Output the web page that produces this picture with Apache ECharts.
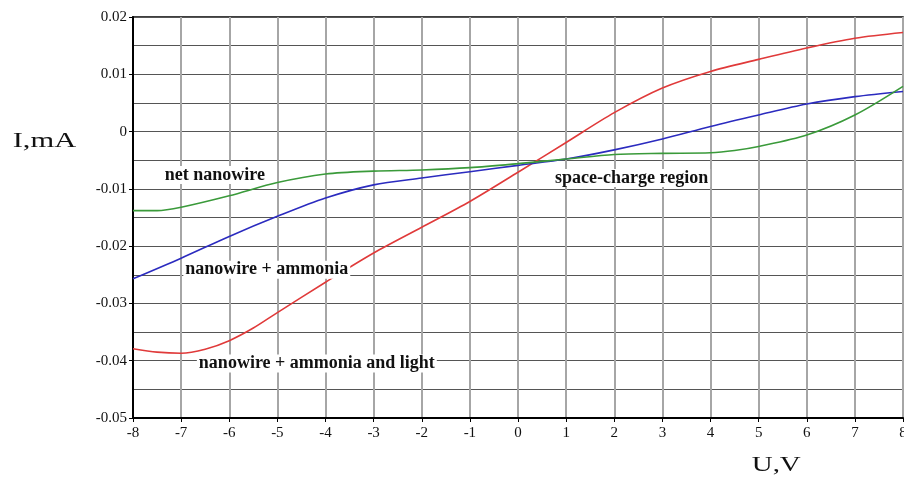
<!DOCTYPE html>
<html>
<head>
<meta charset="utf-8">
<script src="https://cdn.jsdelivr.net/npm/echarts@6/dist/echarts.min.js"></script>
<style>
html,body{margin:0;padding:0;background:#fff;}
#chart{width:904px;height:477px;}
</style>
</head>
<body>
<div id="chart"></div>
<script>
// Voltage (V) and current (mA) readings
var uLight = [-8,-7.5,-7,-6.5,-6,-5.5,-5,-4,-3,-2,-1,0,1,2,3,4,5,6,7,8];
var iLight = [-0.0379,-0.0385,-0.0387,-0.0380,-0.0365,-0.0343,-0.0316,-0.0263,-0.0212,-0.0167,-0.0122,-0.0071,-0.0019,0.0033,0.0076,0.0105,0.0126,0.0146,0.0163,0.0173];

var uAmmonia = [-8,-7,-6,-5,-4,-3,-2,-1,0,1,2,3,4,5,6,7,8];
var iAmmonia = [-0.0257,-0.0221,-0.0183,-0.0148,-0.0116,-0.0093,-0.0081,-0.0070,-0.0059,-0.0048,-0.0032,-0.0013,0.0009,0.0029,0.0048,0.0061,0.0070];

var uNet = [-8,-7.5,-7,-6,-5,-4,-3,-2,-1,0,1,2,3,4,4.5,5,6,7,8];
var iNet = [-0.0138,-0.0138,-0.0132,-0.0112,-0.0089,-0.0074,-0.0069,-0.0067,-0.0063,-0.0056,-0.0048,-0.0040,-0.0038,-0.0037,-0.0033,-0.0026,-0.0006,0.0029,0.0079];

var annotationTexts = ['net nanowire','nanowire + ammonia','nanowire + ammonia and light','space-charge region'];
var annotationU = [-6.3,-5.22,-4.18,2.36];
var annotationI = [-0.0076,-0.0241,-0.0405,-0.0081];

var xTicks = {min:-8, max:8, step:1};
var yTicks = {min:-0.05, max:0.02, step:0.01};

function pairs(u, i){ return u.map(function(x,k){ return [x, i[k]]; }); }

var serif = "'Liberation Serif','Times New Roman',serif";
var chart = echarts.init(document.getElementById('chart'), null, {renderer:'canvas'});

chart.setOption({
  backgroundColor:'#fff',
  animation:false,
  grid:{left:133, right:1, top:17, bottom:59, outerBoundsMode:'none', containLabel:false,
    show:true, borderColor:'#000', borderWidth:1.5, backgroundColor:'transparent'},
  xAxis:{
    type:'value', min:xTicks.min, max:xTicks.max, interval:xTicks.step,
    axisLine:{show:true, onZero:false, lineStyle:{color:'#000', width:2}},
    axisTick:{show:true, length:4, lineStyle:{color:'#000'}},
    axisLabel:{fontFamily:serif, fontSize:15, color:'#111', margin:8, hideOverlap:false},
    splitLine:{show:true, lineStyle:{color:'#a6a6a6', width:2}}
  },
  yAxis:{
    type:'value', min:yTicks.min, max:yTicks.max, interval:yTicks.step,
    axisLine:{show:true, onZero:false, lineStyle:{color:'#000', width:2}},
    axisTick:{show:true, length:4, lineStyle:{color:'#000'}},
    axisLabel:{fontFamily:serif, fontSize:15, color:'#111', margin:6,
      formatter:function(v){ var r = Math.round(v*100)/100; return r===0 ? '0' : String(r); }},
    splitLine:{show:true, lineStyle:{color:'#555', width:1}},
    minorTick:{show:false, splitNumber:2},
    minorSplitLine:{show:true, lineStyle:{color:'#555', width:1}}
  },
  series:[
    {type:'line', name:'nanowire + ammonia and light', data:pairs(uLight,iLight), smooth:0.3, showSymbol:false, lineStyle:{color:'#e03a3a', width:1.6}, z:3},
    {type:'line', name:'nanowire + ammonia', data:pairs(uAmmonia,iAmmonia), smooth:0.3, showSymbol:false, lineStyle:{color:'#2b2bbf', width:1.6}, z:3},
    {type:'line', name:'net nanowire', data:pairs(uNet,iNet), smooth:0.3, showSymbol:false, lineStyle:{color:'#3a9a3a', width:1.6}, z:3},
    {type:'scatter', silent:true, symbolSize:0, z:5, itemStyle:{opacity:1},
      data:annotationTexts.map(function(t,k){ return {name:t, value:[annotationU[k], annotationI[k]]}; }),
      label:{show:true, position:'inside', formatter:function(p){return p.name;},
        fontFamily:serif, fontWeight:'bold', fontSize:18, color:'#111', opacity:1,
        textBorderWidth:0, backgroundColor:'#fff', padding:[0,2]}
    }
  ],
  graphic:[
    {type:'text', x:12.7, y:141, scaleX:1.45, style:{text:'I,mA', font:"21px 'Liberation Serif','Times New Roman',serif", fill:'#111', textVerticalAlign:'middle'}},
    {type:'text', x:751.7, y:465, scaleX:1.38, style:{text:'U,V', font:"21px 'Liberation Serif','Times New Roman',serif", fill:'#111', textVerticalAlign:'middle'}}
  ]
});
</script>
</body>
</html>
